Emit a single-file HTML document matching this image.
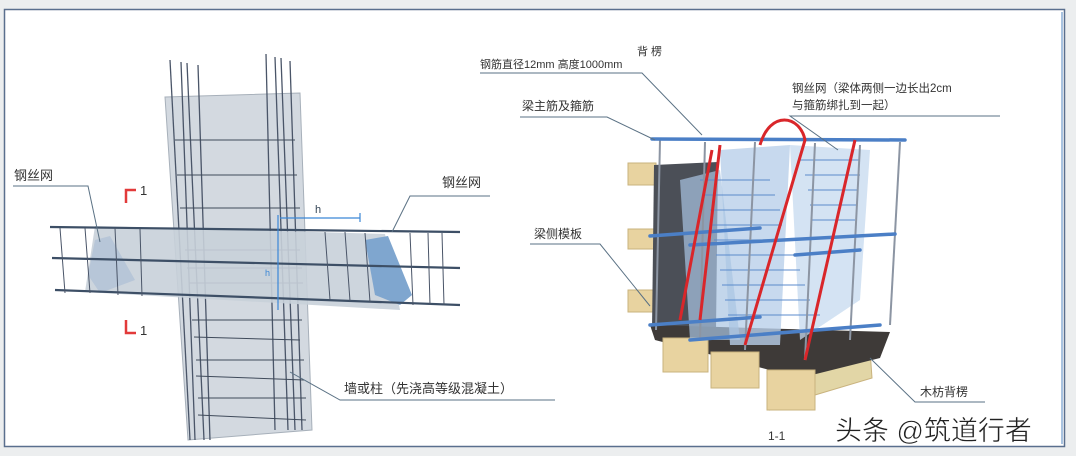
<!DOCTYPE html>
<html><head><meta charset="utf-8"><style>
html,body{margin:0;padding:0;background:#eef0f2;}
svg{display:block}
text{font-family:"Liberation Sans","Noto Sans CJK SC",sans-serif;fill:#333;}
</style></head><body>
<svg width="1076" height="456" viewBox="0 0 1076 456" xmlns="http://www.w3.org/2000/svg">
<rect x="0" y="0" width="1076" height="456" fill="#eceeef"/>
<rect x="4.5" y="9.5" width="1060" height="437" fill="#fff" stroke="#5a6f8e" stroke-width="1.5"/>
<line x1="1062" y1="12" x2="1062" y2="444" stroke="#a9c3e0" stroke-width="2"/>

<!-- LEFT: column -->
<polygon points="165,97 300,93 312,430 188,440" fill="#d3d9e0" stroke="#a7b0ba"/>
<g stroke="#4a5568" stroke-width="1.3">
<line x1="170" y1="60" x2="190" y2="440"/><line x1="181" y1="62" x2="195" y2="440"/>
<line x1="187" y1="63" x2="204" y2="440"/><line x1="198" y1="65" x2="210" y2="440"/>
<line x1="266" y1="54" x2="275" y2="430"/><line x1="275" y1="57" x2="288" y2="430"/>
<line x1="281" y1="58" x2="295" y2="430"/><line x1="290" y1="61" x2="302" y2="430"/>
</g>
<g stroke="#3f4a5a" stroke-width="1" fill="none">
<path d="M175,140 H295"/><path d="M177,175 H297"/><path d="M180,208 H300"/>
<path d="M185,250 H300 M187,268 H302 M189,283 H303"/>
<path d="M192,320 H302 M194,337 L300,340 M196,360 H304 M196,376 L304,380 M198,398 H306 M198,415 L306,420"/>
</g>
<!-- beam -->
<polygon points="95,226 385,234 400,310 85,292" fill="#c8d0d9" opacity="0.9"/>
<polygon points="95,240 110,236 135,280 100,293 88,275" fill="#b7c6d8"/>
<polygon points="365,240 388,236 412,295 400,305 375,295" fill="#7fa6cf"/>
<g stroke="#3d4f66" stroke-width="2.2">
<line x1="50" y1="227" x2="460" y2="232"/><line x1="52" y1="258" x2="460" y2="268"/><line x1="55" y1="290" x2="460" y2="305"/>
</g>
<g stroke="#4a5568" stroke-width="1">
<line x1="60" y1="228" x2="65" y2="293"/><line x1="85" y1="228" x2="90" y2="293"/><line x1="115" y1="228" x2="118" y2="295"/>
<line x1="140" y1="229" x2="142" y2="296"/><line x1="325" y1="232" x2="330" y2="300"/><line x1="345" y1="232" x2="350" y2="301"/>
<line x1="365" y1="233" x2="370" y2="302"/><line x1="410" y1="233" x2="413" y2="305"/><line x1="428" y1="233" x2="430" y2="305"/><line x1="442" y1="233" x2="444" y2="305"/>
</g>
<g stroke="#3b87d6" stroke-width="1.2" fill="none">
<path d="M280,218 H360 M360,213 V222 M278,215 V310"/>
</g>
<text x="315" y="213" font-size="11" style="fill:#345">h</text>
<text x="265" y="276" font-size="9" style="fill:#3b87d6">h</text>
<path d="M126,203 V190 H136" stroke="#e23a3a" stroke-width="2.5" fill="none"/>
<text x="140" y="195" font-size="13">1</text>
<path d="M126,320 V333 H136" stroke="#e23a3a" stroke-width="2.5" fill="none"/>
<text x="140" y="335" font-size="13">1</text>

<g stroke="#5a7184" stroke-width="1" fill="none">
<path d="M13,186 H88 L100,242"/>
<path d="M490,196 H410 L392,232"/>
<path d="M555,400 H340 L290,372"/>
</g>
<text x="14" y="180" font-size="13">钢丝网</text>
<text x="442" y="187" font-size="13">钢丝网</text>
<text x="344" y="393" font-size="13">墙或柱（先浇高等级混凝土）</text>

<!-- RIGHT figure -->
<rect x="628" y="163" width="28" height="22" fill="#e8d3a0" stroke="#c9b37e"/>
<rect x="628" y="229" width="28" height="20" fill="#e8d3a0" stroke="#c9b37e"/>
<rect x="628" y="290" width="28" height="22" fill="#e8d3a0" stroke="#c9b37e"/>
<polygon points="654,165 718,162 716,330 652,330" fill="#4b4f57"/>
<polygon points="770,375 870,350 872,378 815,395 770,410" fill="#e2d6a6" stroke="#c9b37e"/>
<polygon points="650,325 890,332 880,358 800,378 655,340" fill="#3e3a38"/>
<rect x="663" y="338" width="45" height="34" fill="#e8d3a0" stroke="#c9b37e"/>
<rect x="711" y="352" width="48" height="36" fill="#e8d3a0" stroke="#c9b37e"/>
<rect x="767" y="370" width="48" height="40" fill="#e8d3a0" stroke="#c9b37e"/>
<polygon points="720,150 790,145 780,345 730,345" fill="#b9d0ea" opacity="0.8"/>
<polygon points="790,145 870,150 860,300 800,340" fill="#c6d9ef" opacity="0.75"/>
<polygon points="680,180 720,170 740,340 690,340" fill="#a9c4e3" opacity="0.7"/>
<g stroke="#5c8ccc" stroke-width="1.2" opacity="0.8">
<path d="M700,180 H770 M705,195 H775 M710,210 H780 M712,225 H782 M714,240 H790 M716,255 H795 M720,270 H800 M722,285 H805 M725,300 H810 M728,315 H820 M800,160 H860 M805,175 H860 M808,190 H858 M810,205 H856 M812,220 H855"/>
</g>
<g stroke="#8c95a3" stroke-width="2">
<line x1="660" y1="140" x2="656" y2="330"/><line x1="705" y1="142" x2="700" y2="340"/>
<line x1="755" y1="142" x2="745" y2="350"/><line x1="815" y1="143" x2="805" y2="360"/>
<line x1="860" y1="145" x2="850" y2="340"/><line x1="900" y1="142" x2="890" y2="325"/>
</g>
<g stroke="#4b7fc6" stroke-width="3.5" stroke-linecap="round">
<line x1="652" y1="139" x2="905" y2="140"/>
<line x1="650" y1="236" x2="760" y2="228"/><line x1="690" y1="245" x2="895" y2="234"/>
<line x1="650" y1="325" x2="760" y2="317"/><line x1="690" y1="340" x2="880" y2="325"/>
<line x1="795" y1="255" x2="860" y2="250"/>
</g>
<g stroke="#d9262a" stroke-width="3" fill="none">
<path d="M712,150 L680,320"/>
<path d="M760,145 C770,110 800,115 805,140 L745,345"/>
<path d="M855,140 L805,360"/>
<path d="M720,145 L700,320"/>
</g>

<g stroke="#5a7184" stroke-width="1" fill="none">
<path d="M480,73 H642 L702,135"/>
<path d="M520,117 H607 L655,140"/>
<path d="M1000,116 H790 L838,150"/>
<path d="M530,244 H600 L650,306"/>
<path d="M985,402 H915 L870,358"/>
</g>
<text x="637" y="55" font-size="11">背 楞</text>
<text x="480" y="68" font-size="11">钢筋直径12mm 高度1000mm</text>
<text x="522" y="110" font-size="12">梁主筋及箍筋</text>
<text x="792" y="92" font-size="11.5">钢丝网（梁体两侧一边长出2cm</text>
<text x="792" y="109" font-size="11.5">与箍筋绑扎到一起）</text>
<text x="534" y="238" font-size="12">梁侧模板</text>
<text x="920" y="396" font-size="12">木枋背楞</text>
<text x="768" y="440" font-size="12">1-1</text>
<text x="835" y="440" font-size="27" style="fill:#222;stroke:#fff;stroke-width:0.5">头条 @筑道行者</text>
</svg>
</body></html>
